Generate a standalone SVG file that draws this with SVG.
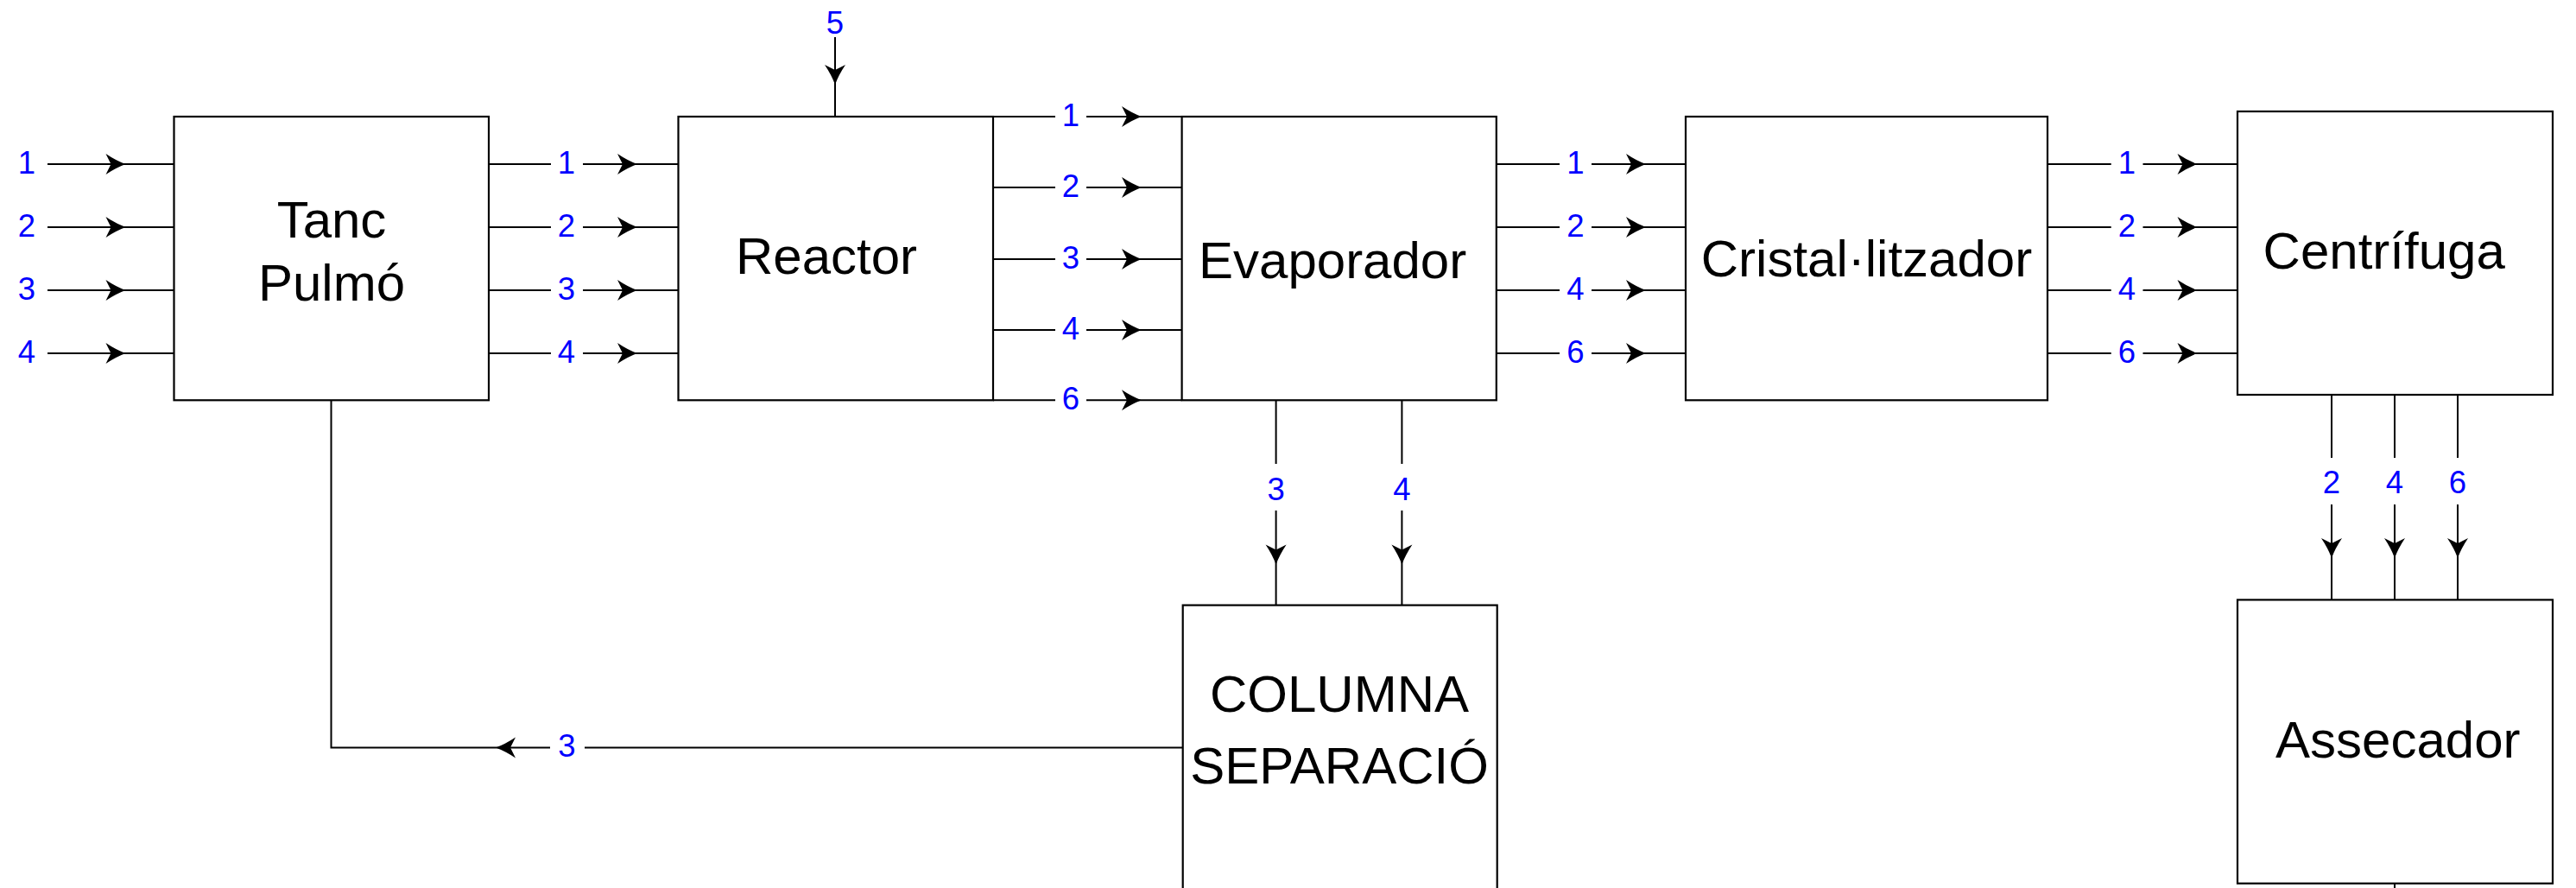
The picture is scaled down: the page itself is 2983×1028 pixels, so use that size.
<svg xmlns="http://www.w3.org/2000/svg" xmlns:xlink="http://www.w3.org/1999/xlink" width="2983" height="1028" viewBox="0 0 2983 1028">
<style>
.box{fill:#fff;stroke:#000;stroke-width:2.2}
.ln{fill:none;stroke:#000;stroke-width:2}
.t{font-family:"Liberation Sans",Arial,sans-serif;font-size:60px;fill:#000}
.n{font-family:"Liberation Sans",Arial,sans-serif;font-size:36.5px;fill:#0000ff;text-anchor:middle}
.c{text-anchor:middle}
</style>
<defs>
<path id="ah" d="M0,0 Q-11,-4 -23,-12 L-17,0 L-23,12 Q-11,4 0,0 Z" fill="#000"/>
</defs>
<rect width="2983" height="1028" fill="#fff"/>

<g id="nodes">
<g id="tanc"><rect class="box" x="201.5" y="135" width="364.5" height="328.3"/>
<text class="t c" x="384" y="275">Tanc</text><text class="t c" x="384" y="348">Pulmó</text></g>
<g id="reactor"><rect class="box" x="785.5" y="135" width="364.5" height="328.3"/>
<text class="t" x="852" y="317">Reactor</text></g>
<g id="evaporador"><rect class="box" x="1368.6" y="135" width="364.2" height="328.3"/>
<text class="t" x="1388" y="322">Evaporador</text></g>
<g id="cristal"><rect class="box" x="1952" y="135" width="419" height="328.3"/>
<text class="t c" x="2161.5" y="320">Cristal·litzador</text></g>
<g id="centrifuga"><rect class="box" x="2591" y="129" width="365" height="328"/>
<text class="t" x="2620.6" y="311">Centrífuga</text></g>
<g id="columna"><rect class="box" x="1369.7" y="700.6" width="364" height="340"/>
<text class="t c" x="1551" y="824">COLUMNA</text><text class="t c" x="1551" y="907">SEPARACIÓ</text></g>
<g id="assecador"><rect class="box" x="2591" y="694.4" width="365" height="328.3"/>
<text class="t" x="2635" y="876.6">Assecador</text></g>
</g>

<g id="connectors">
<!-- inputs to Tanc -->
<path class="ln" d="M55,190H201.5M55,263H201.5M55,336H201.5M55,409H201.5"/>
<use xlink:href="#ah" transform="translate(145.5,190)"/><use xlink:href="#ah" transform="translate(145.5,263)"/>
<use xlink:href="#ah" transform="translate(145.5,336)"/><use xlink:href="#ah" transform="translate(145.5,409)"/>
<text class="n" x="31" y="200.5">1</text><text class="n" x="31" y="273.5">2</text><text class="n" x="31" y="346.5">3</text><text class="n" x="31" y="419.5">4</text>

<!-- Tanc to Reactor -->
<path class="ln" d="M566,190H638M675,190H785.5M566,263H638M675,263H785.5M566,336H638M675,336H785.5M566,409H638M675,409H785.5"/>
<use xlink:href="#ah" transform="translate(738,190)"/><use xlink:href="#ah" transform="translate(738,263)"/>
<use xlink:href="#ah" transform="translate(738,336)"/><use xlink:href="#ah" transform="translate(738,409)"/>
<text class="n" x="656" y="200.5">1</text><text class="n" x="656" y="273.5">2</text><text class="n" x="656" y="346.5">3</text><text class="n" x="656" y="419.5">4</text>

<!-- stream 5 -->
<path class="ln" d="M967,43V135"/>
<use xlink:href="#ah" transform="translate(967,98) rotate(90)"/>
<text class="n" x="967" y="38.5">5</text>

<!-- Reactor to Evaporador -->
<path class="ln" d="M1150,135H1222M1258,135H1368.6M1150,217H1222M1258,217H1368.6M1150,300H1222M1258,300H1368.6M1150,382H1222M1258,382H1368.6M1150,463.3H1222M1258,463.3H1368.6"/>
<use xlink:href="#ah" transform="translate(1322,135)"/><use xlink:href="#ah" transform="translate(1322,217)"/>
<use xlink:href="#ah" transform="translate(1322,300)"/><use xlink:href="#ah" transform="translate(1322,382)"/>
<use xlink:href="#ah" transform="translate(1322,463.3)"/>
<text class="n" x="1240" y="145.5">1</text><text class="n" x="1240" y="227.5">2</text><text class="n" x="1240" y="310.5">3</text><text class="n" x="1240" y="392.5">4</text><text class="n" x="1240" y="474">6</text>

<!-- Evaporador to Cristal -->
<path class="ln" d="M1733,190H1806M1843,190H1952M1733,263H1806M1843,263H1952M1733,336H1806M1843,336H1952M1733,409H1806M1843,409H1952"/>
<use xlink:href="#ah" transform="translate(1906,190)"/><use xlink:href="#ah" transform="translate(1906,263)"/>
<use xlink:href="#ah" transform="translate(1906,336)"/><use xlink:href="#ah" transform="translate(1906,409)"/>
<text class="n" x="1824.5" y="200.5">1</text><text class="n" x="1824.5" y="273.5">2</text><text class="n" x="1824.5" y="346.5">4</text><text class="n" x="1824.5" y="419.5">6</text>

<!-- Cristal to Centrifuga -->
<path class="ln" d="M2371,190H2444.7M2481.5,190H2591M2371,263H2444.7M2481.5,263H2591M2371,336H2444.7M2481.5,336H2591M2371,409H2444.7M2481.5,409H2591"/>
<use xlink:href="#ah" transform="translate(2544.5,190)"/><use xlink:href="#ah" transform="translate(2544.5,263)"/>
<use xlink:href="#ah" transform="translate(2544.5,336)"/><use xlink:href="#ah" transform="translate(2544.5,409)"/>
<text class="n" x="2463" y="200.5">1</text><text class="n" x="2463" y="273.5">2</text><text class="n" x="2463" y="346.5">4</text><text class="n" x="2463" y="419.5">6</text>

<!-- Evaporador to Columna -->
<path class="ln" d="M1477.6,463.3V537M1477.6,591V700.6M1623.4,463.3V537M1623.4,591V700.6"/>
<use xlink:href="#ah" transform="translate(1477.6,653.5) rotate(90)"/><use xlink:href="#ah" transform="translate(1623.4,653.5) rotate(90)"/>
<text class="n" x="1477.6" y="579">3</text><text class="n" x="1623.4" y="579">4</text>

<!-- Columna back to Tanc -->
<path class="ln" d="M1369.7,865.4H677M637,865.4H383.5V463.3"/>
<use xlink:href="#ah" transform="translate(574,865.4) rotate(180)"/>
<text class="n" x="656.5" y="876">3</text>

<!-- Centrifuga to Assecador -->
<path class="ln" d="M2700,457V530M2700,584V694.4M2773,457V530M2773,584V694.4M2846,457V530M2846,584V694.4"/>
<use xlink:href="#ah" transform="translate(2700,646) rotate(90)"/><use xlink:href="#ah" transform="translate(2773,646) rotate(90)"/>
<use xlink:href="#ah" transform="translate(2846,646) rotate(90)"/>
<text class="n" x="2700" y="571">2</text><text class="n" x="2773" y="571">4</text><text class="n" x="2846" y="571">6</text>

<!-- Assecador output -->
<path class="ln" d="M2773,1022.7V1030"/>
</g>
</svg>
